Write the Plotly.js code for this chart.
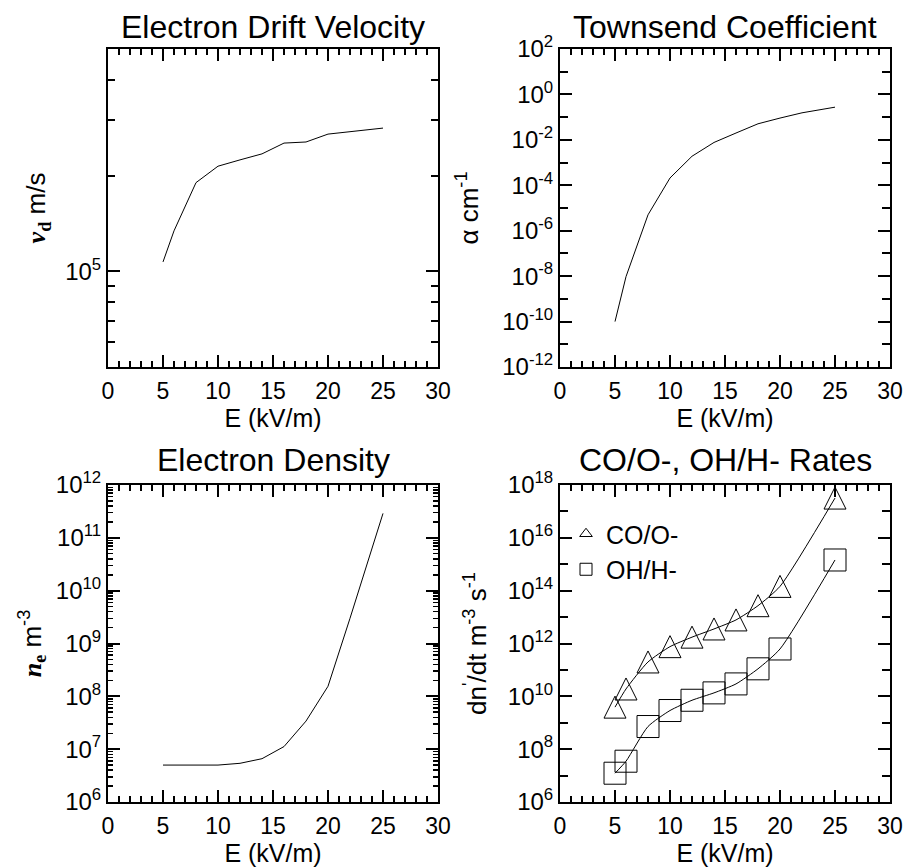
<!DOCTYPE html>
<html><head><meta charset="utf-8">
<script src="https://cdn.plot.ly/plotly-3.0.1.min.js"></script>
<style>html,body{margin:0;padding:0;background:#fff}</style>
</head><body><div id="chart" style="width:906px;height:867px"></div>
<script>
// ---- data ----
const E = [5, 6, 8, 10, 12, 14, 16, 18, 20, 22, 25];
const driftVelocity = [1.07e5, 1.34e5, 1.90e5, 2.14e5, 2.24e5, 2.34e5, 2.53e5, 2.55e5, 2.70e5, 2.75e5, 2.82e5];
const townsendAlpha = [1.0e-10, 9.5e-9, 5.0e-6, 2.1e-4, 1.9e-3, 7.7e-3, 2.0e-2, 5.1e-2, 9.1e-2, 1.55e-1, 2.75e-1];
const electronDensity = [5.0e6, 5.0e6, 5.0e6, 5.0e6, 5.4e6, 6.6e6, 1.12e7, 3.4e7, 1.55e8, 3.0e9, 2.9e11];
const E_rates = [5, 6, 8, 10, 12, 14, 16, 18, 20, 25];
const rateCO = [3.9e9, 1.9e10, 2.0e11, 7.6e11, 1.74e12, 3.55e12, 7.8e12, 2.7e13, 1.45e14, 3.2e17];
const rateOH = [1.23e7, 3.5e7, 7.2e8, 2.9e9, 7.1e9, 1.35e10, 2.95e10, 1.1e11, 6.2e11, 1.45e15];

const panelTitles = ['Electron Drift Velocity', 'Townsend Coefficient', 'Electron Density', 'CO/O-, OH/H- Rates'];
const seriesNames = ['CO/O-', 'OH/H-'];
const xTitle = 'E (kV/m)';
const yTitles = [
  '<span style="font-family:Liberation Serif"><b><i>v</i><sub>d</sub></b></span> m/s',
  'α cm<sup>-1</sup>',
  '<span style="font-family:Liberation Serif"><b><i>n</i><sub>e</sub></b></span> m<sup>-3</sup>',
  'dn<sup>\'</sup>/dt m<sup>-3</sup> s<sup>-1</sup>'
];
const xTickVals = [0, 5, 10, 15, 20, 25, 30];
const xTickText = ['0', '5', '10', '15', '20', '25', '30'];
const vdTickVals = [1e5];
const vdTickText = ['10<sup>5</sup>'];
const vdMinorVals = [6e4, 7e4, 8e4, 9e4, 2e5, 3e5, 4e5];
const alphaTickVals = [1e-12, 1e-10, 1e-8, 1e-6, 1e-4, 1e-2, 1e0, 1e2];
const alphaTickText = ['10<sup>-12</sup>', '10<sup>-10</sup>', '10<sup>-8</sup>', '10<sup>-6</sup>', '10<sup>-4</sup>', '10<sup>-2</sup>', '10<sup>0</sup>', '10<sup>2</sup>'];
const alphaMinorVals = [1e-11, 1e-9, 1e-7, 1e-5, 1e-3, 1e-1, 1e1];
const neTickVals = [1e6, 1e7, 1e8, 1e9, 1e10, 1e11, 1e12];
const neTickText = ['10<sup>6</sup>', '10<sup>7</sup>', '10<sup>8</sup>', '10<sup>9</sup>', '10<sup>10</sup>', '10<sup>11</sup>', '10<sup>12</sup>'];
const rateTickVals = [1e6, 1e8, 1e10, 1e12, 1e14, 1e16, 1e18];
const rateTickText = ['10<sup>6</sup>', '10<sup>8</sup>', '10<sup>10</sup>', '10<sup>12</sup>', '10<sup>14</sup>', '10<sup>16</sup>', '10<sup>18</sup>'];
const rateMinorVals = [1e7, 1e9, 1e11, 1e13, 1e15, 1e17];

// ---- layout helpers ----
const W = 906, H = 867;
const colDom = [[108 / W, 438 / W], [560 / W, 890 / W]];
const rowDom = [[1 - 367 / H, 1 - 49 / H], [1 - 802 / H, 1 - 485 / H]];
const FONT = 'Liberation Sans, Arial, sans-serif';

function xAxis(anchor, col, row) {
  return {
    domain: colDom[col], anchor: anchor, range: [0, 30],
    tickmode: 'array', tickvals: xTickVals, ticktext: xTickText,
    ticks: 'inside', ticklen: 12, tickwidth: 2, tickcolor: 'black',
    showline: true, linewidth: 2, linecolor: 'black', mirror: 'ticks',
    showgrid: false, zeroline: false,
    tickfont: {size: 23, color: 'black'}, ticklabelstandoff: 2,
    minor: {dtick: 1, tick0: 0, ticks: 'inside', ticklen: 6, tickwidth: 2, tickcolor: 'black', showgrid: false},
    title: {text: xTitle, font: {size: 25, color: 'black'}, standoff: 4}
  };
}
function yAxis(anchor, row, range, tv, tt, minor, title, standoff) {
  return {
    domain: rowDom[row], anchor: anchor, type: 'log', range: range,
    tickmode: 'array', tickvals: tv, ticktext: tt,
    ticks: 'inside', ticklen: 12, tickwidth: 2, tickcolor: 'black',
    showline: true, linewidth: 2, linecolor: 'black', mirror: 'ticks',
    showgrid: false, zeroline: false,
    tickfont: {size: 24, color: 'black'},
    minor: minor,
    title: {text: title, font: {size: 26, color: 'black'}, standoff: standoff}
  };
}

const lineStyle = {color: 'black', width: 1};
const traces = [
  {x: E, y: driftVelocity, xaxis: 'x', yaxis: 'y', mode: 'lines', line: lineStyle, showlegend: false},
  {x: E, y: townsendAlpha, xaxis: 'x2', yaxis: 'y2', mode: 'lines', line: lineStyle, showlegend: false},
  {x: E, y: electronDensity, xaxis: 'x3', yaxis: 'y3', mode: 'lines', line: lineStyle, showlegend: false},
  {x: E_rates, y: rateCO, xaxis: 'x4', yaxis: 'y4', mode: 'lines', line: {color: 'black', width: 1, shape: 'spline', smoothing: 0.6}, showlegend: false},
  {x: E_rates, y: rateOH, xaxis: 'x4', yaxis: 'y4', mode: 'lines', line: {color: 'black', width: 1, shape: 'spline', smoothing: 0.6}, showlegend: false},
  {x: E_rates, y: rateCO, xaxis: 'x4', yaxis: 'y4', mode: 'markers', showlegend: false,
   marker: {symbol: 'arrow-down-open', angle: 180, standoff: 11, size: 22, color: 'black', line: {width: 1, color: 'black'}}},
  {x: E_rates, y: rateOH, xaxis: 'x4', yaxis: 'y4', mode: 'markers', showlegend: false,
   marker: {symbol: 'square-open', size: 22, color: 'black', line: {width: 1, color: 'black'}}},
  {x: [null], y: [null], xaxis: 'x4', yaxis: 'y4', mode: 'markers', name: seriesNames[0],
   marker: {symbol: 'triangle-up-open', size: 11, color: 'black', line: {width: 1, color: 'black'}}},
  {x: [null], y: [null], xaxis: 'x4', yaxis: 'y4', mode: 'markers', name: seriesNames[1],
   marker: {symbol: 'square-open', size: 12, color: 'black', line: {width: 1, color: 'black'}}}
];

const titleY = [1 - 27 / H, 1 - 27 / H, 1 - 460 / H, 1 - 460 / H];
const titleX = [(colDom[0][0] + colDom[0][1]) / 2, (colDom[1][0] + colDom[1][1]) / 2, (colDom[0][0] + colDom[0][1]) / 2, (colDom[1][0] + colDom[1][1]) / 2];

const layout = {
  width: W, height: H,
  margin: {l: 0, r: 0, t: 0, b: 0},
  paper_bgcolor: 'white', plot_bgcolor: 'white',
  font: {family: FONT, color: 'black'},
  showlegend: true,
  legend: {x: 566 / W, y: 1 - 511 / H, xanchor: 'left', yanchor: 'top', bgcolor: 'rgba(0,0,0,0)',
           font: {size: 25, color: 'black'}, itemwidth: 30, tracegroupgap: 0},
  xaxis: xAxis('y', 0, 0),
  xaxis2: xAxis('y2', 1, 0),
  xaxis3: xAxis('y3', 0, 1),
  xaxis4: xAxis('y4', 1, 1),
  yaxis: yAxis('x', 0, [Math.log10(5e4), Math.log10(5e5)], vdTickVals, vdTickText,
               {tickmode: 'array', tickvals: vdMinorVals, ticks: 'inside', ticklen: 7, tickwidth: 2, tickcolor: 'black', showgrid: false}, yTitles[0], 12),
  yaxis2: yAxis('x2', 0, [-12, 2], alphaTickVals, alphaTickText,
               {tickmode: 'array', tickvals: alphaMinorVals, ticks: 'inside', ticklen: 8, tickwidth: 2, tickcolor: 'black', showgrid: false}, yTitles[1], 16),
  yaxis3: yAxis('x3', 1, [6, 12], neTickVals, neTickText,
               {dtick: 'D1', ticks: 'inside', ticklen: 5, tickwidth: 1.5, tickcolor: 'black', showgrid: false}, yTitles[2], 7),
  yaxis4: yAxis('x4', 1, [6, 18], rateTickVals, rateTickText,
               {tickmode: 'array', tickvals: rateMinorVals, ticks: 'inside', ticklen: 8, tickwidth: 2, tickcolor: 'black', showgrid: false}, yTitles[3], 14),
  annotations: panelTitles.map((t, i) => ({
    text: t, xref: 'paper', yref: 'paper', x: titleX[i], y: titleY[i],
    xanchor: 'center', yanchor: 'middle', showarrow: false,
    font: {size: 32, color: 'black', family: FONT}
  }))
};

Plotly.newPlot('chart', traces, layout, {displayModeBar: false, staticPlot: true});
</script>
</body></html>
